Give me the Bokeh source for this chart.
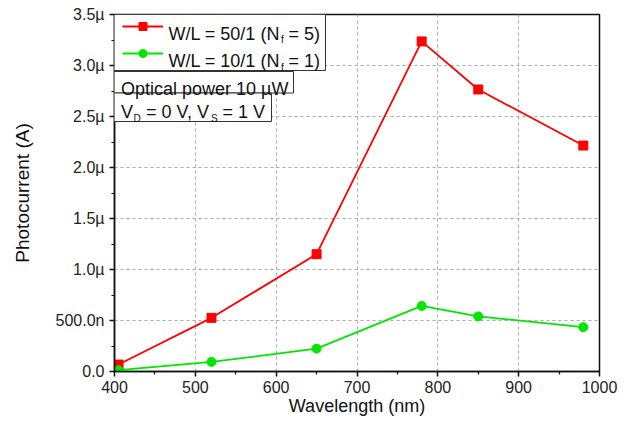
from bokeh.plotting import figure
from bokeh.models import (FixedTicker, Range1d, BoxAnnotation, Label, Legend, LegendItem)
from bokeh.core.properties import value
from bokeh.embed import file_html
from bokeh.resources import INLINE

# ---- data ----
wavelength_nm = [405, 520, 650, 780, 850, 980]
photocurrent_wl50_uA = [0.068, 0.526, 1.150, 3.236, 2.765, 2.215]
photocurrent_wl10_uA = [0.013, 0.094, 0.224, 0.643, 0.540, 0.435]

x_ticks = [400, 500, 600, 700, 800, 900, 1000]
x_minor_ticks = [450, 550, 650, 750, 850, 950]
y_ticks = [0.0, 0.5, 1.0, 1.5, 2.0, 2.5, 3.0, 3.5]
y_tick_labels = ["0.0", "500.0n", "1.0µ", "1.5µ", "2.0µ", "2.5µ", "3.0µ", "3.5µ"]
y_minor_ticks = [0.25, 0.75, 1.25, 1.75, 2.25, 2.75, 3.25]

RED = "#ff0000"
GREEN = "#00e600"
FONT = "Liberation Sans"

W, H = 618, 418
X0, X1, Y0, Y1 = 400, 1000, 0.0, 3.5
# frame position in figure pixels
FL, FR, FT, FB = 114, 599, 14, 371

p = figure(width=W, height=H,
           x_range=Range1d(X0, X1), y_range=Range1d(Y0, Y1),
           output_backend="svg", toolbar_location=None,
           min_border_left=FL, min_border_right=W - FR,
           min_border_top=FT, min_border_bottom=H - FB,
           background_fill_color="white", border_fill_color="white")

p.outline_line_color = "#111111"
p.outline_line_width = 1.5

for ax in (p.xaxis[0], p.yaxis[0]):
    ax.axis_line_color = "#111111"
    ax.axis_line_width = 1.5
    ax.major_tick_line_color = "#111111"
    ax.minor_tick_line_color = "#111111"
    ax.major_tick_line_width = 1.5
    ax.minor_tick_line_width = 1.2
    ax.major_tick_in = 0
    ax.major_tick_out = 5
    ax.minor_tick_in = 0
    ax.minor_tick_out = 3
    ax.major_label_text_font = FONT
    ax.major_label_text_font_size = "16px"
    ax.major_label_text_color = "#222222"
    ax.axis_label_text_font = FONT
    ax.axis_label_text_font_style = "normal"
    ax.axis_label_text_color = "#111111"

p.xaxis[0].ticker = FixedTicker(ticks=x_ticks, minor_ticks=x_minor_ticks)
p.yaxis[0].ticker = FixedTicker(ticks=y_ticks, minor_ticks=y_minor_ticks)
p.yaxis[0].major_label_overrides = {t: lab for t, lab in zip(y_ticks, y_tick_labels)}
p.xaxis[0].axis_label = "Wavelength (nm)"
p.yaxis[0].axis_label = "Photocurrent (A)"
p.xaxis[0].major_label_standoff = 4
p.yaxis[0].major_label_standoff = 5
p.xaxis[0].axis_label_text_font_size = "18px"
p.yaxis[0].axis_label_text_font_size = "19px"
p.xaxis[0].axis_label_standoff = 0
p.yaxis[0].axis_label_standoff = 20

for g in (p.xgrid[0], p.ygrid[0]):
    g.grid_line_color = "#aaaaaa"
    g.grid_line_dash = "3 3"
    g.grid_line_width = 1

r1l = p.line(wavelength_nm, photocurrent_wl50_uA, line_color=RED, line_width=1.8)
r1s = p.scatter(wavelength_nm, photocurrent_wl50_uA, marker="square", size=9,
                fill_color=RED, line_color=RED)
r2l = p.line(wavelength_nm, photocurrent_wl10_uA, line_color=GREEN, line_width=1.8)
r2s = p.scatter(wavelength_nm, photocurrent_wl10_uA, marker="circle", size=9,
                fill_color=GREEN, line_color=GREEN)


def dx(px):
    return X0 + (px - FL) * (X1 - X0) / (FR - FL)


def dy(py):
    return Y0 + (FB - py) * (Y1 - Y0) / (FB - FT)


# boxes (legend frame and two text boxes)
for (l, r, t, b) in [(112, 325, 14, 70), (113, 293, 71, 92.5), (113, 271, 92.5, 121)]:
    p.add_layout(BoxAnnotation(left=dx(l), right=dx(r), top=dy(t), bottom=dy(b),
                               fill_color="white", fill_alpha=1.0,
                               line_color="#333333", line_width=1, line_alpha=1.0))

legend = Legend(items=[LegendItem(label=value(" "), renderers=[r1l, r1s]),
                       LegendItem(label=value(" "), renderers=[r2l, r2s])],
                location=(122 - FL, FB - 63), orientation="vertical",
                border_line_color=None, background_fill_alpha=0.0,
                padding=0, margin=0, spacing=7, glyph_width=41, glyph_height=20,
                label_height=20, label_width=0, label_standoff=0,
                label_text_font_size="10px")
p.add_layout(legend)


def lab(text, px, py, size, align="left"):
    p.add_layout(Label(x=X0, y=Y1, x_offset=px - FL, y_offset=-(py - FT), text=text,
                       text_font=FONT, text_font_size=f"{size}px",
                       text_baseline="alphabetic", text_align=align,
                       text_color="#111111"))


# legend texts
for i, (main, tail) in enumerate([("W/L = 50/1 (N", "= 5)"), ("W/L = 10/1 (N", "= 1)")]):
    base = 33.3 + i * 27.5
    lab(main, 168, base, 18)
    lab("f", 280.5, base + 6, 10)
    lab(tail, 288, base, 18)

lab("Optical power 10 µW", 120.5, 88.5, 18)

lab("V", 120.5, 111, 18)
lab("D", 133, 118, 10)
lab("= 0 V, V", 145.5, 111, 18)
lab("S", 210.5, 118, 10)
lab("= 1 V", 222, 111, 18)

open("out.html", "w").write(file_html(p, INLINE))
